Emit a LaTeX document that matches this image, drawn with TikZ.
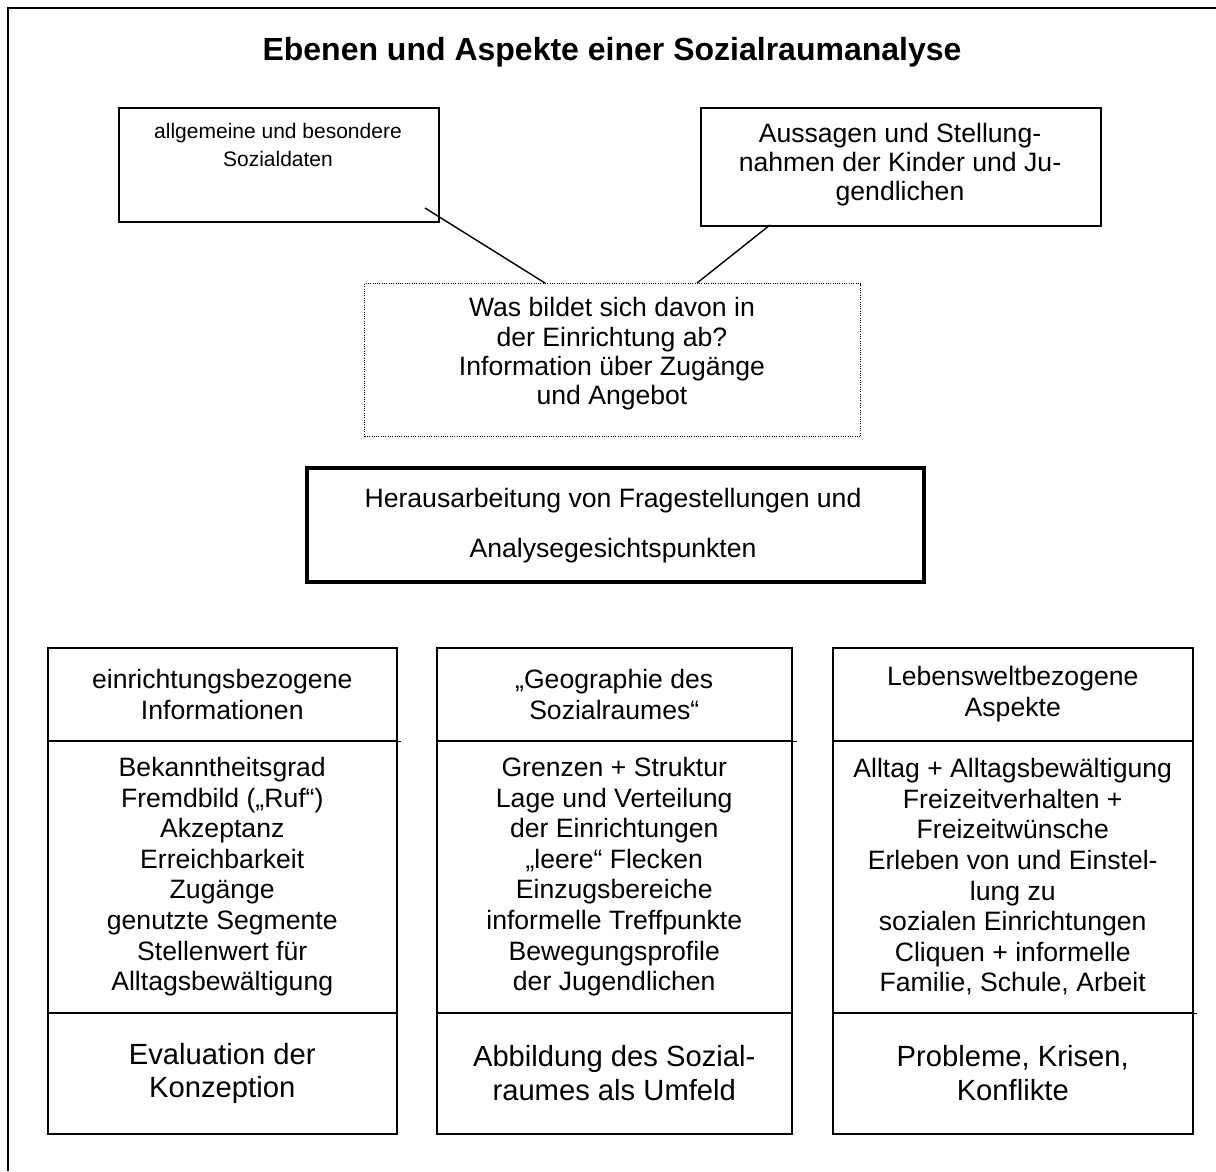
\documentclass[tikz,border=0pt]{standalone}
\usepackage{fontspec}
\setmainfont{Liberation Sans}
\begin{document}
\begin{tikzpicture}[x=1pt,y=-1pt,
  frame/.style={draw, rectangle, anchor=north west, inner sep=0pt, line width=1.5pt},
  sect/.style={frame, align=center, font=\fontsize{26.6}{30.6}\selectfont},
  foot/.style={frame, align=center, font=\fontsize{29.2}{33.5}\selectfont},
  txt/.style={align=center, inner sep=0pt},
  conn/.style={line width=1.4pt},
  tick/.style={line width=1.5pt}
]
\useasboundingbox (0,0) rectangle (1216,1171);
% page border (top and left)
\draw[line width=2.5pt] (8,1171) -- (8,8) -- (1216,8);

% title
\node[txt, font=\fontsize{32}{38}\selectfont\bfseries] (title) at (612,52) {Ebenen und Aspekte einer Sozialraumanalyse};

% top boxes
\node[frame, minimum width=320pt, minimum height=114pt] (soz) at (118,107) {};
\node[txt, font=\fontsize{21}{28}\selectfont] (soztxt) at (278,145) {allgemeine und besondere\\Sozialdaten};
\node[frame, minimum width=400pt, minimum height=118pt] (aus) at (700,107) {};
\node[txt, font=\fontsize{26.6}{29}\selectfont] (austxt) at (900,165) {Aussagen und Stellung-\\nahmen der Kinder und Ju-\\gendlichen};

% dotted box
\node[frame, line width=1.2pt, dash pattern=on 0.9pt off 1.4pt, minimum width=496pt, minimum height=153pt] (dot) at (364,283) {};
\node[txt, font=\fontsize{26.6}{29.4}\selectfont] (dottxt) at (612,354) {Was bildet sich davon in\\der Einrichtung ab?\\Information über Zugänge\\und Angebot};

% connectors
\coordinate (c1a) at (425,208);
\coordinate (c1b) at (545,283);
\coordinate (c2a) at (770,225);
\coordinate (c2b) at (697,283);
\draw[conn] (c1a) -- (c1b);
\draw[conn] (c2a) -- (c2b);

% thick box
\node[frame, line width=4pt, minimum width=617pt, minimum height=114pt] (frag) at (305,466) {};
\node[txt, font=\fontsize{26.6}{50}\selectfont] (fragtxt) at (613,526) {Herausarbeitung von Fragestellungen und\\Analysegesichtspunkten};

% column A
\node[sect, minimum width=349pt, minimum height=93pt] (aH) at (47,647) {einrichtungsbezogene\\Informationen};
\node[sect, minimum width=349pt, minimum height=272pt] (aB) at (47,740) {Bekanntheitsgrad\\Fremdbild („Ruf“)\\Akzeptanz\\Erreichbarkeit\\Zugänge\\genutzte Segmente\\Stellenwert für\\Alltagsbewältigung};
\node[foot, minimum width=349pt, minimum height=121pt] (aF) at (47,1012) {Evaluation der\\Konzeption};

% column B
\node[sect, minimum width=355pt, minimum height=93pt] (bH) at (436,647) {„Geographie des\\Sozialraumes“};
\node[sect, minimum width=355pt, minimum height=272pt] (bB) at (436,740) {Grenzen + Struktur\\Lage und Verteilung\\der Einrichtungen\\„leere“ Flecken\\Einzugsbereiche\\informelle Treffpunkte\\Bewegungsprofile\\der Jugendlichen};
\node[foot, minimum width=355pt, minimum height=121pt] (bF) at (436,1012) {Abbildung des Sozial-\\raumes als Umfeld};

% column C
\node[sect, minimum width=360pt, minimum height=93pt] (cH) at (832,647) {Lebensweltbezogene\\Aspekte};
\node[sect, minimum width=360pt, minimum height=272pt] (cB) at (832,740) {Alltag + Alltagsbewältigung\\Freizeitverhalten +\\Freizeitwünsche\\Erleben von und Einstel-\\lung zu\\sozialen Einrichtungen\\Cliquen + informelle\\Familie, Schule, Arbeit};
\node[foot, minimum width=360pt, minimum height=121pt] (cF) at (832,1012) {Probleme, Krisen,\\Konflikte};

% small overhangs of the dividing lines
\draw[tick] (aH.south east) -- ++(3,0);
\draw[tick] (bH.south east) -- ++(4,0);
\draw[tick] (cB.south east) -- ++(3,0);
\end{tikzpicture}
\end{document}
